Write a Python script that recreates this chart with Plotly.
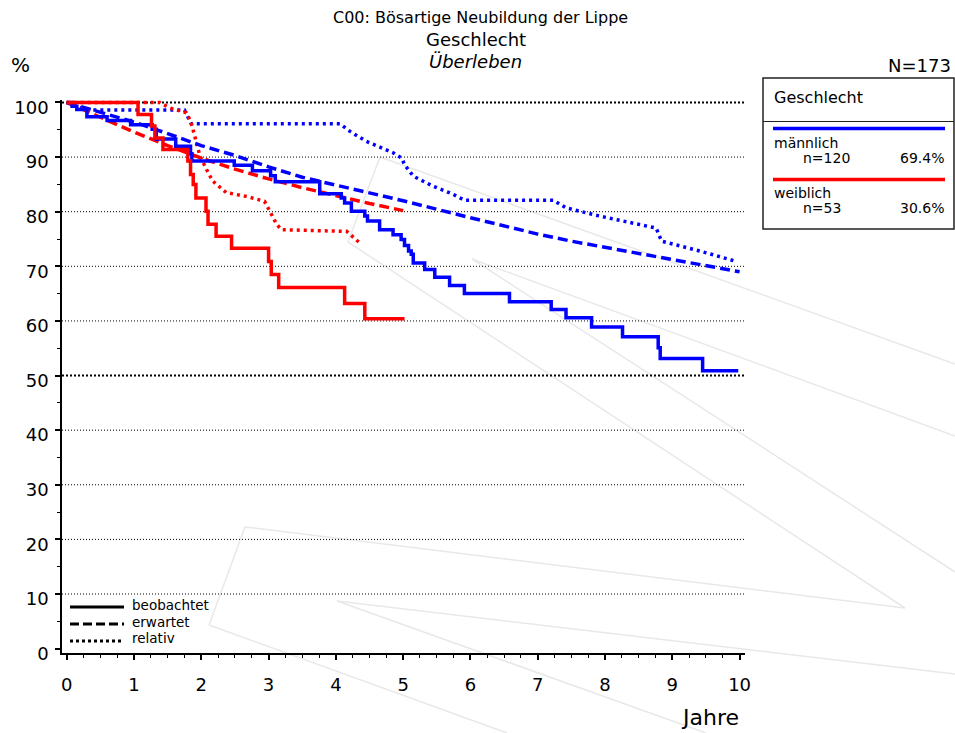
import plotly.graph_objects as go

# ---------------- data ----------------
TITLE = "C00: Bösartige Neubildung der Lippe"
SUBTITLE = "Geschlecht"
SUBSUB = "Überleben"
N_TOTAL = "N=173"
X_TITLE = "Jahre"
Y_TITLE = "%"

GROUPS = ["männlich", "weiblich"]
GROUP_N = ["n=120", "n=53"]
GROUP_PCT = ["69.4%", "30.6%"]
GROUP_COLORS = ["#0000FF", "#FF0000"]
LINE_TYPES = ["beobachtet", "erwartet", "relativ"]

X_TICKS = list(range(0, 11))
Y_TICKS = list(range(0, 101, 10))
GRID_LEVELS = list(range(10, 101, 10))
BOLD_GRID = [50, 100]

# observed (Kaplan-Meier, step)
m_obs_t = [0, 0.08, 0.15, 0.30, 0.60, 0.95, 1.27, 1.33, 1.62, 1.84, 1.86, 2.49, 2.76, 3.03, 3.10,
           3.76, 4.08, 4.13, 4.23, 4.43, 4.47, 4.65, 4.85, 4.97, 5.02, 5.08, 5.12, 5.15, 5.32,
           5.47, 5.69, 5.91, 6.58, 7.20, 7.42, 7.80, 8.26, 8.79, 8.82, 9.45, 9.98]
m_obs_s = [100, 99.3, 98.7, 97.4, 96.7, 95.9, 95.1, 93.3, 92.0, 90.6, 89.3, 88.5, 87.5, 86.6, 85.5,
           83.3, 82.5, 81.6, 80.1, 79.2, 78.3, 76.7, 75.8, 74.9, 73.8, 72.8, 72.2, 70.6, 69.4,
           68.0, 66.5, 65.0, 63.5, 62.1, 60.6, 58.9, 57.1, 55.1, 53.1, 50.9, 50.9]
f_obs_t = [0, 1.06, 1.26, 1.31, 1.43, 1.80, 1.84, 1.88, 1.92, 2.07, 2.10, 2.22, 2.45, 3.00,
           3.04, 3.15, 4.13, 4.43, 5.02]
f_obs_s = [100, 97.8, 95.7, 93.5, 91.4, 89.3, 86.8, 85.0, 82.5, 80.1, 77.7, 75.5, 73.3, 70.9,
           68.5, 66.1, 63.2, 60.4, 60.4]

# expected
m_exp_t = [0, 0.5, 1, 1.5, 2, 2.5, 3, 3.5, 4, 4.5, 5, 6, 7, 7.5, 8, 8.5, 9, 9.5, 10]
m_exp_s = [100, 98.2, 96.4, 94.3, 92.1, 90.3, 88.2, 86.3, 84.9, 83.4, 82.0, 78.9, 75.9, 74.6,
           73.5, 72.4, 71.3, 70.1, 69.0]
f_exp_t = [0, 0.5, 1, 1.5, 2, 2.5, 3, 3.5, 4, 4.5, 5]
f_exp_s = [100, 97.3, 94.6, 92.1, 89.8, 87.8, 86.0, 84.4, 82.9, 81.5, 80.2]

# relative
m_rel_t = [0, 0.3, 1.75, 1.80, 1.85, 4.06, 4.21, 4.45, 4.85, 4.98, 5.02, 5.15, 5.44, 5.74,
           5.91, 7.23, 7.42, 7.92, 8.41, 8.76, 8.84, 9.41, 9.95]
m_rel_s = [100, 98.6, 98.6, 97.3, 96.1, 96.1, 94.7, 92.9, 90.8, 89.8, 88.6, 86.5, 84.7, 83.2,
           82.1, 82.1, 80.7, 79.2, 78.0, 77.0, 74.6, 72.8, 70.9]
f_rel_t = [0, 1.38, 1.53, 1.78, 1.85, 1.93, 1.98, 2.08, 2.17, 2.37, 2.67, 2.94, 3.02, 3.12,
           3.19, 4.16, 4.38]
f_rel_s = [100, 100, 99.0, 98.1, 96.3, 92.3, 90.2, 87.7, 85.6, 83.5, 82.8, 81.9, 80.1, 77.7,
           76.7, 76.4, 74.0]

# ---------------- layout helpers ----------------
W, H = 955, 733
L, R, T, B = 62, 210, 100, 80
PW, PH = W - L - R, H - T - B


def px(x):
    return (x - L) / PW


def py(y):
    return (H - B - y) / PH


FONT = "DejaVu Sans"
DASH_EXP = "10px,5px"
DASH_REL = "3px,4px"
LW = 3.5

fig = go.Figure()

series = [
    (m_rel_t, m_rel_s, 0, DASH_REL, "linear"),
    (f_rel_t, f_rel_s, 1, DASH_REL, "linear"),
    (m_exp_t, m_exp_s, 0, DASH_EXP, "linear"),
    (f_exp_t, f_exp_s, 1, DASH_EXP, "linear"),
    (m_obs_t, m_obs_s, 0, "solid", "hv"),
    (f_obs_t, f_obs_s, 1, "solid", "hv"),
]
for t, s, gi, dash, shape in series:
    fig.add_trace(go.Scatter(
        x=t, y=s, mode="lines",
        line=dict(color=GROUP_COLORS[gi], width=LW, dash=dash, shape=shape),
        showlegend=False, hoverinfo="skip"))

shapes = []
# watermark (faint logo lines)
wm = [((209, 625), (245, 527)), ((245, 527), (905, 608)), ((905, 608), (348, 242)),
      ((348, 242), (380, 157)), ((380, 157), (955, 364)), ((472, 259), (955, 436)),
      ((472, 259), (955, 572)), ((337, 601), (955, 674)), ((337, 601), (706, 733)),
      ((209, 625), (507, 733))]
for (a, b) in wm:
    shapes.append(dict(type="line", xref="paper", yref="paper", x0=px(a[0]), y0=py(a[1]),
                       x1=px(b[0]), y1=py(b[1]), line=dict(color="#e8e8e8", width=1.5),
                       layer="below"))

# gridlines
for g in GRID_LEVELS:
    bold = g in BOLD_GRID
    shapes.append(dict(type="line", xref="paper", yref="y", x0=0, x1=1, y0=g, y1=g,
                       line=dict(color="black", width=2 if bold else 1,
                                 dash="2px,2px" if bold else "1px,2px"),
                       layer="below"))

# legend box (top right)
shapes.append(dict(type="rect", xref="paper", yref="paper", x0=px(763), x1=px(954),
                   y0=py(229), y1=py(78), line=dict(color="#222", width=1.5)))
shapes.append(dict(type="line", xref="paper", yref="paper", x0=px(763), x1=px(954),
                   y0=py(121.5), y1=py(121.5), line=dict(color="#222", width=1.2)))
for gi, yy in enumerate([128.5, 179.5]):
    shapes.append(dict(type="line", xref="paper", yref="paper", x0=px(773), x1=px(945),
                       y0=py(yy), y1=py(yy), line=dict(color=GROUP_COLORS[gi], width=3.5)))

# line type legend (bottom left)
for dash, yy in zip(["solid", "9px,4px", "3px,3px"], [607, 624, 641]):
    shapes.append(dict(type="line", xref="paper", yref="paper", x0=px(70), x1=px(124),
                       y0=py(yy), y1=py(yy), line=dict(color="black", width=3, dash=dash)))

ann = []


def text(x, y, s, size, xa="center", italic=False):
    ann.append(dict(xref="paper", yref="paper", x=px(x), y=py(y), text=s, showarrow=False,
                    xanchor=xa, yanchor="middle",
                    font=dict(family=FONT, size=size, color="black",
                              style="italic" if italic else "normal")))


text(480, 18, TITLE, 16)
text(476, 40, SUBTITLE, 18)
text(475, 62, SUBSUB, 18, italic=True)
text(20, 65, Y_TITLE, 20)
text(953, 65, N_TOTAL, 18, xa="right")
text(741, 717, X_TITLE, 22, xa="right")
text(772, 98, SUBTITLE, 16, xa="left")
for gi, yy in enumerate([143, 193]):
    text(772, yy, GROUPS[gi], 14, xa="left")
    text(801, yy + 15, GROUP_N[gi], 14, xa="left")
    text(946, yy + 15, GROUP_PCT[gi], 14, xa="right")
for lab, yy in zip(LINE_TYPES, [605, 622, 638]):
    text(130, yy, lab, 13.5, xa="left")

fig.update_layout(
    width=W, height=H, margin=dict(l=L, r=R, t=T, b=B),
    paper_bgcolor="white", plot_bgcolor="white",
    shapes=shapes, annotations=ann, showlegend=False,
    font=dict(family=FONT, color="black"),
    xaxis=dict(range=[-0.07, 10.08], tickvals=X_TICKS, ticks="outside", ticklen=5,
               tickwidth=1.5, tickcolor="black", showline=True, linecolor="black",
               linewidth=1.5, showgrid=False, zeroline=False,
               tickfont=dict(family=FONT, size=18), ticklabelstandoff=10,
               minor=dict(dtick=0.25, ticks="outside", ticklen=3, tickcolor="black",
                          tickwidth=1, showgrid=False)),
    yaxis=dict(range=[-0.8, 100.45], tickvals=Y_TICKS, ticks="outside", ticklen=5,
               tickwidth=1.5, tickcolor="black", showline=True, linecolor="black",
               linewidth=1.5, showgrid=False, zeroline=False,
               tickfont=dict(family=FONT, size=18), ticklabelshift=5, ticklabelstandoff=3,
               minor=dict(dtick=5, ticks="outside", ticklen=3, tickcolor="black",
                          tickwidth=1, showgrid=False)),
)

fig.write_html("out.html", config={"displayModeBar": False},
               post_script="document.body.style.margin='0';document.body.style.overflow='hidden';")
